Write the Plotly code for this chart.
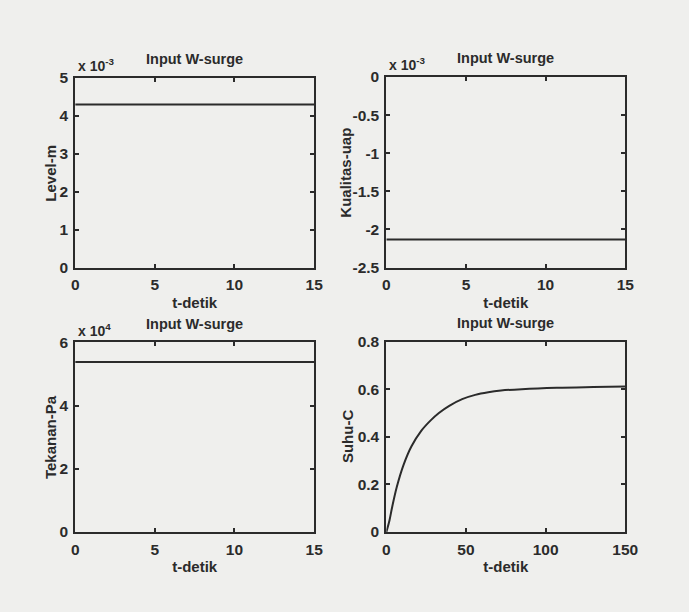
import plotly.graph_objects as go

# ---- data ----
t_short = [0, 15]
level_m = [4.3e-3, 4.3e-3]          # Level-m
kualitas_uap = [-2.13e-3, -2.13e-3]  # Kualitas-uap
tekanan_pa = [5.38e4, 5.38e4]        # Tekanan-Pa

t_suhu = [0, 2, 3.5, 6.6, 10.7, 15.8, 21.9, 28, 33, 39.5, 47.6, 55.8, 64, 72, 85, 107, 130, 150]
suhu_c = [0, 0.05, 0.10, 0.19, 0.28, 0.36, 0.425, 0.47, 0.50, 0.53, 0.558, 0.576, 0.587, 0.594,
          0.600, 0.606, 0.609, 0.611]

titles = ["Input W-surge"] * 4
ylabels = ["Level-m", "Kualitas-uap", "Tekanan-Pa", "Suhu-C"]
xlabel = "t-detik"
exps = ["-3", "-3", "4", None]

# tick labels
x_ticks = [[0, 5, 10, 15], [0, 5, 10, 15], [0, 5, 10, 15], [0, 50, 100, 150]]
y_ticks = [[0, 1, 2, 3, 4, 5], [-2.5, -2, -1.5, -1, -0.5, 0], [0, 2, 4, 6], [0, 0.2, 0.4, 0.6, 0.8]]
y_ticktext = [["0", "1", "2", "3", "4", "5"], ["-2.5", "-2", "-1.5", "-1", "-0.5", "0"],
              ["0", "2", "4", "6"], ["0", "0.2", "0.4", "0.6", "0.8"]]

W, H = 689, 612
BG = "#efefed"
INK = "#2b2b2b"
FONT = dict(family="Liberation Sans, Arial, sans-serif", size=15.5, color=INK, weight="bold")
LFONT = dict(FONT, size=15)

# pixel boxes of the four axes (left, right, top, bottom)
boxes = [(73, 318, 71, 266), (392, 637, 70, 266), (73, 318, 343, 538), (392, 637, 342, 538)]
ylab_x = [48, 350, 47, 352]

fig = go.Figure()
series = [
    (t_short, [v / 1e-3 for v in level_m]),
    (t_short, [v / 1e-3 for v in kualitas_uap]),
    (t_short, [v / 1e4 for v in tekanan_pa]),
    (t_suhu, suhu_c),
]
xr = [[0, 15], [0, 15], [0, 15], [0, 150]]
yr = [[0, 5], [-2.5, 0], [0, 6], [0, 0.8]]

annotations = []
for i, ((x, y), (l, r, tp, bt)) in enumerate(zip(series, boxes)):
    n = "" if i == 0 else str(i + 1)
    fig.add_trace(go.Scatter(x=x, y=y, mode="lines", line=dict(color=INK, width=2, shape="spline"),
                             xaxis="x" + n, yaxis="y" + n, showlegend=False))
    ax = dict(showline=True, linecolor=INK, linewidth=2, mirror="allticks", ticks="inside",
              ticklen=4, tickwidth=1.5, tickcolor=INK, showgrid=False, zeroline=False,
              tickfont=FONT)
    fig.layout["xaxis" + n] = dict(ax, domain=[l / W, r / W], range=xr[i], tickmode="array",
                                   tickvals=x_ticks[i], ticktext=[str(v) for v in x_ticks[i]],
                                   anchor="y" + n, ticklabelstandoff=2,
                                   title=dict(text=xlabel, font=LFONT, standoff=5))
    fig.layout["yaxis" + n] = dict(ax, domain=[1 - bt / H, 1 - tp / H], range=yr[i], tickmode="array",
                                   tickvals=y_ticks[i], ticktext=y_ticktext[i],
                                   anchor="x" + n, ticklabelstandoff=2)
    annotations.append(dict(text=ylabels[i], x=ylab_x[i] / W, y=1 - (tp + bt) / 2 / H, xref="paper",
                            yref="paper", xanchor="center", yanchor="middle", textangle=-90,
                            showarrow=False, font=LFONT))
    annotations.append(dict(text=titles[i], x=(l + r) / 2 / W, y=1 - (tp - 9) / H, xref="paper",
                            yref="paper", xanchor="center", yanchor="bottom", showarrow=False,
                            font=dict(FONT, size=14.5)))
    if exps[i]:
        annotations.append(dict(text="x 10<sup>" + exps[i] + "</sup>", x=(l + 1) / W, y=1 - (tp - 2) / H,
                                xref="paper", yref="paper", xanchor="left", yanchor="bottom",
                                showarrow=False, font=dict(FONT, size=14)))

fig.update_layout(width=W, height=H, margin=dict(l=0, r=0, t=0, b=0), paper_bgcolor=BG,
                  plot_bgcolor=BG, annotations=annotations, font=FONT)
fig.write_html("out.html")
